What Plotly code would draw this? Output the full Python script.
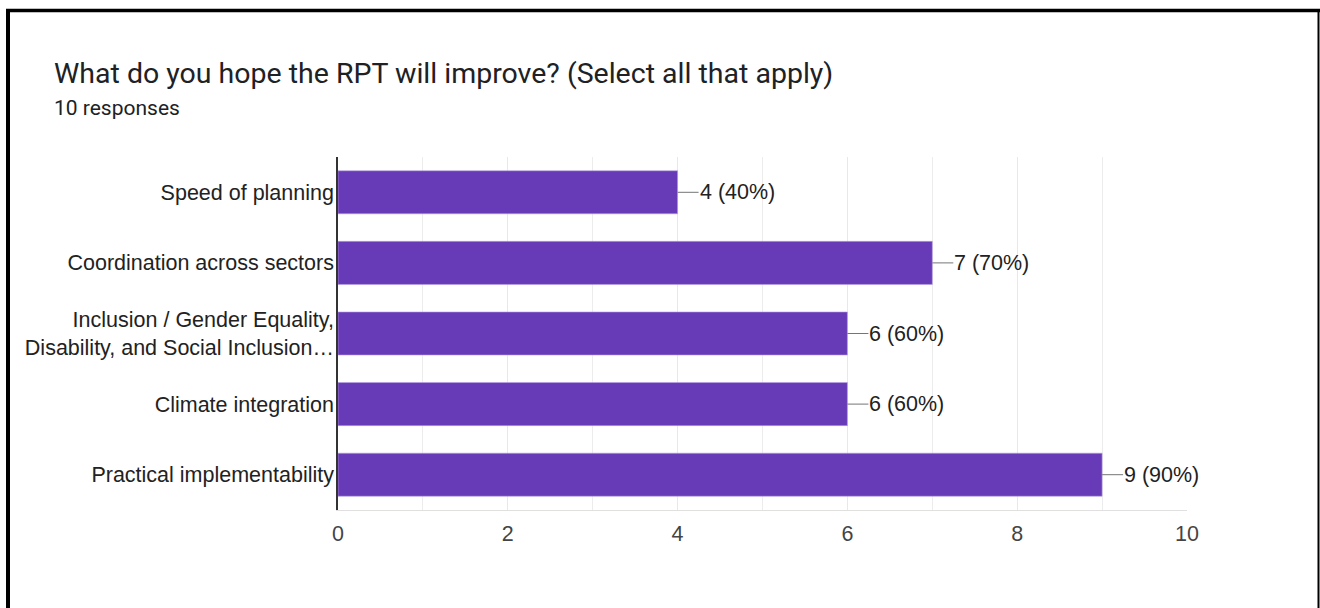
import plotly.graph_objects as go

categories = [
    "Speed of planning",
    "Coordination across sectors",
    "Inclusion / Gender Equality,<br>Disability, and Social Inclusion…",
    "Climate integration",
    "Practical implementability",
]
counts = [4, 7, 6, 6, 9]
percents = [40, 70, 60, 60, 90]
x_ticks = [0, 2, 4, 6, 8, 10]

title_text = "What do you hope the RPT will improve? (Select all that apply)"
subtitle_text = "10 responses"

W, H = 1320, 608
L, R, T, B = 338, 133, 157, 98
PW, PH = W - L - R, H - T - B

LABEL_FONT = "Liberation Sans, Arial"
FS = 21.5


def px(xp):
    return (xp - L) / PW


def py(yp):
    return (H - B - yp) / PH


fig = go.Figure()
fig.add_trace(go.Bar(
    x=counts, y=categories, orientation="h",
    marker=dict(color="#673ab7", line=dict(color="#b9a3e0", width=0.6)),
    hoverinfo="skip",
))

for c, v, p in zip(categories, counts, percents):
    fig.add_annotation(
        x=v, y=c, xref="x", yref="y",
        text=f"{v} ({p}%)", showarrow=True, arrowhead=0, arrowwidth=1,
        arrowcolor="#757575", ax=21, ay=0, xanchor="left",
        font=dict(family=LABEL_FONT, size=FS, color="#222222"),
        borderpad=0,
    )

fig.add_annotation(x=px(53), y=py(74), xref="paper", yref="paper", text=title_text,
                   showarrow=False, xanchor="left", yanchor="middle", borderpad=0,
                   font=dict(family="Roboto", size=28.5, color="#202124"))
fig.add_annotation(x=px(53), y=py(108), xref="paper", yref="paper", text=subtitle_text,
                   showarrow=False, xanchor="left", yanchor="middle", borderpad=0,
                   font=dict(family="Roboto", size=21, color="#202124"))

# frame
fig.add_shape(type="line", xref="paper", yref="paper", x0=px(8), x1=px(8), y0=py(9), y1=py(620),
              line=dict(color="black", width=4))
fig.add_shape(type="line", xref="paper", yref="paper", x0=px(6), x1=px(1320), y0=py(10.5), y1=py(10.5),
              line=dict(color="black", width=3.5))
fig.add_shape(type="line", xref="paper", yref="paper", x0=px(1318.5), x1=px(1318.5), y0=py(9), y1=py(620),
              line=dict(color="black", width=2))

fig.update_layout(
    width=W, height=H,
    margin=dict(l=L, r=R, t=T, b=B, autoexpand=False),
    paper_bgcolor="white", plot_bgcolor="white",
    showlegend=False, bargap=0.39,
    font=dict(family=LABEL_FONT, size=FS, color="#222222"),
)
fig.update_xaxes(
    range=[0, 10], tickvals=x_ticks, showgrid=True, gridcolor="#e8e8e8", gridwidth=1,
    minor=dict(dtick=1, showgrid=True, gridcolor="#ececec", gridwidth=1),
    showline=True, linecolor="#e0e0e0", linewidth=1, mirror=False,
    tickfont=dict(family=LABEL_FONT, size=FS, color="#444444"),
    ticks="", ticklabelstandoff=4, zeroline=False, fixedrange=True,
)
fig.update_yaxes(
    categoryorder="array", categoryarray=categories, autorange="reversed",
    showline=True, linecolor="#333333", linewidth=1.5, showgrid=False,
    tickfont=dict(family=LABEL_FONT, size=FS, color="#222222"),
    ticks="", ticklabelstandoff=-2, fixedrange=True,
)

fig.write_html(
    "out.html",
    config={"displayModeBar": False, "staticPlot": False},
    post_script="document.body.style.margin='0';document.body.style.overflow='hidden';",
)
